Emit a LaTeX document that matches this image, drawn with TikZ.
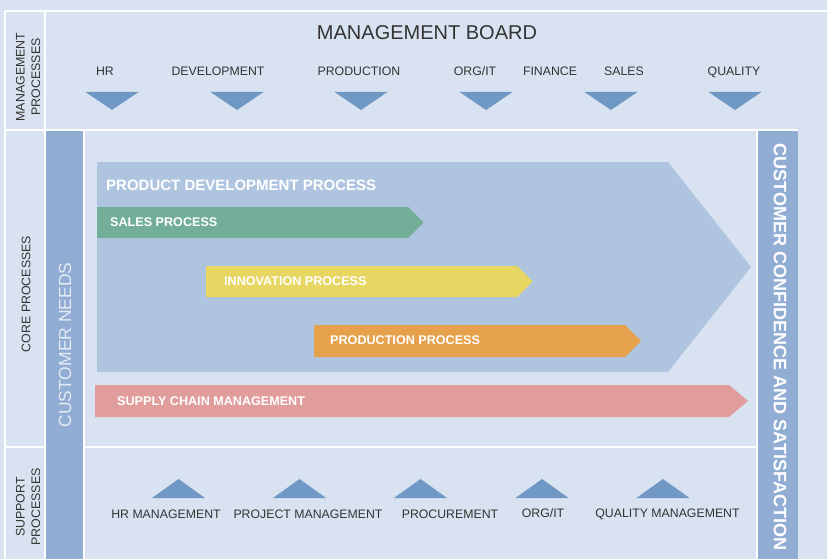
\documentclass[tikz,border=0pt]{standalone}
\usepackage{fontspec}
\setmainfont{Liberation Sans}
\usetikzlibrary{positioning,calc}
\definecolor{bgblue}{RGB}{217,226,240}
\definecolor{barblue}{RGB}{146,173,211}
\definecolor{pdpblue}{RGB}{175,196,223}
\definecolor{triblue}{RGB}{112,152,196}
\definecolor{salesgreen}{RGB}{115,174,152}
\definecolor{innoyellow}{RGB}{232,214,99}
\definecolor{prodorange}{RGB}{230,161,76}
\definecolor{supplypink}{RGB}{224,157,156}
\definecolor{labelgray}{RGB}{51,51,51}
\definecolor{needswhite}{RGB}{228,234,244}
\tikzset{
    menu/.style = {text=labelgray, inner sep=0pt, anchor=base,
        font=\fontsize{12.3}{14}\selectfont},
    side/.style = {text=labelgray, inner sep=0pt, rotate=90, align=center,
        font=\fontsize{12.4}{15.5}\selectfont},
    proc/.style = {text=white, inner sep=0pt, anchor=west,
        font=\bfseries\fontsize{12.6}{14}\selectfont},
    divider/.style = {draw=white, line width=1.6pt},
    tri/.style = {fill=triblue}
}
\def\procarrow#1#2#3#4#5{%
    \fill[#1] (#2,#4) -- (#3,#4) -- ($(#3,#4)!0.5!(#3,#4+#5)+(#5/2,0)$) -- (#3,#4+#5) -- (#2,#4+#5) -- cycle;
}
\begin{document}
\begin{tikzpicture}[x=1pt, y=-1pt]
    \useasboundingbox (0,0) rectangle (827,559);
    \fill[bgblue] (0,0) rectangle (827,559);
    \fill[barblue] (45,130) rectangle (84,559);
    \fill[barblue] (757,130) rectangle (798,559);
    \draw[divider] (5,11) -- (827,11);
    \draw[divider] (5,11) -- (5,559);
    \draw[divider] (45,11) -- (45,559);
    \draw[divider] (5,130) -- (798,130);
    \draw[divider] (84,130) -- (84,559);
    \draw[divider] (757,130) -- (757,559);
    \draw[divider] (5,447) -- (45,447);
    \draw[divider] (84,447) -- (757,447);
    \node [side] (mgmtside) at (28,77) {MANAGEMENT\\PROCESSES};
    \node [side] (coreside) at (26,294) {CORE PROCESSES};
    \node [side] (suppside) at (28,507) {SUPPORT\\PROCESSES};
    \node [text=labelgray, inner sep=0pt, font=\fontsize{20}{24}\selectfont] (board) at (427,32.5) {MANAGEMENT BOARD};
    \node [menu] (hr) at (105,76) {HR};
    \node [menu] (dev) at (218,76) {DEVELOPMENT};
    \node [menu] (prod) at (359,76) {PRODUCTION};
    \node [menu] (orgit) at (475,76) {ORG/IT};
    \node [menu] (fin) at (550,76) {FINANCE};
    \node [menu] (sales) at (624,76) {SALES};
    \node [menu] (qual) at (734,76) {QUALITY};
    \foreach \x in {112,237,361,486,611,735}{
        \fill[tri] (\x-26.5,92) -- (\x+26.5,92) -- (\x,110) -- cycle;
    }
    \fill[pdpblue] (97,162) -- (668,162) -- (751,267) -- (668,372) -- (97,372) -- cycle;
    \procarrow{salesgreen}{97}{408}{207}{31}
    \procarrow{innoyellow}{206}{517}{266}{31}
    \procarrow{prodorange}{314}{625}{325}{32}
    \fill[supplypink] (95,385) -- (729,385) -- (748,401) -- (729,417) -- (95,417) -- cycle;
    \node [proc, font=\bfseries\fontsize{15}{18}\selectfont] (pdp) at (106,185.5) {PRODUCT DEVELOPMENT PROCESS};
    \node [proc] (salesproc) at (110,222) {SALES PROCESS};
    \node [proc] (innoproc) at (224,281) {INNOVATION PROCESS};
    \node [proc] (prodproc) at (330,340) {PRODUCTION PROCESS};
    \node [proc] (supply) at (117,401.5) {SUPPLY CHAIN MANAGEMENT};
    \node [text=needswhite, inner sep=0pt, rotate=90, font=\fontsize{17.5}{20}\selectfont] (needs) at (65,345) {CUSTOMER NEEDS};
    \node [text=white, inner sep=0pt, rotate=-90, font=\bfseries\fontsize{18}{20}\selectfont] (confidence) at (780,347) {CUSTOMER CONFIDENCE AND SATISFACTION};
    \foreach \x in {178.5,299.5,420.5,542,663}{
        \fill[tri] (\x-26.5,498) -- (\x+26.5,498) -- (\x,479) -- cycle;
    }
    \node [menu] (hrmgmt) at (166,518) {HR MANAGEMENT};
    \node [menu] (projmgmt) at (308,518) {PROJECT MANAGEMENT};
    \node [menu] (procure) at (450,518) {PROCUREMENT};
    \node [menu] (orgit2) at (543,517) {ORG/IT};
    \node [menu] (qualmgmt) at (667.5,517) {QUALITY MANAGEMENT};
\end{tikzpicture}
\end{document}
